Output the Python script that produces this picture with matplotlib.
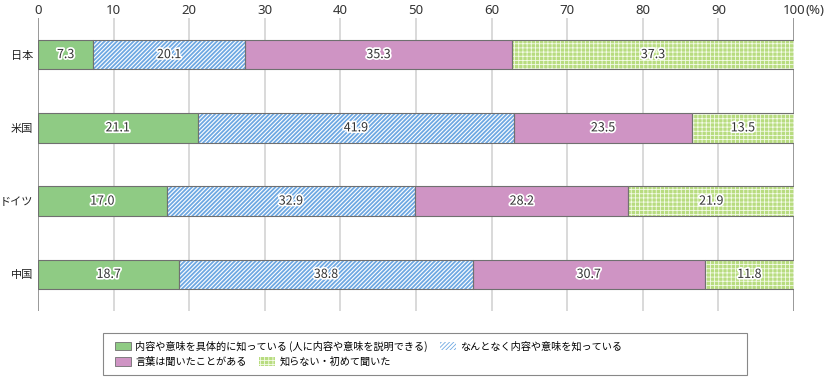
import numpy as np
import matplotlib
matplotlib.use("Agg")
import matplotlib.pyplot as plt
import matplotlib.patheffects as pe
from matplotlib.patches import Patch, Rectangle

plt.rcParams['font.family'] = ['Noto Sans CJK JP', 'DejaVu Sans']

countries = ['日本', '米国', 'ドイツ', '中国']
series_names = ['内容や意味を具体的に知っている (人に内容や意味を説明できる)',
                'なんとなく内容や意味を知っている',
                '言葉は聞いたことがある',
                '知らない・初めて聞いた']
know_well = [7.3, 21.1, 17.0, 18.7]
know_vague = [20.1, 41.9, 32.9, 38.8]
heard_word = [35.3, 23.5, 28.2, 30.7]
never_heard = [37.3, 13.5, 21.9, 11.8]
xticks = [0, 10, 20, 30, 40, 50, 60, 70, 80, 90, 100]

# face colour, hatch colour, hatch, hatch width
styles = [('#8fcb84', None, '', 0),
          ('#ffffff', '#6ea8e2', '////////', 1.3),
          ('#cf94c4', None, '', 0),
          ('#b8dc80', '#f4fbe8', '++++', 0.6)]

fig = plt.figure(figsize=(8.28, 3.8), dpi=100)
ax = fig.add_axes([38/828, 1-311/380, (794-38)/828, (311-18)/380])

y = np.arange(len(countries))
left = np.zeros(len(countries))
outline = '#707070'
for vals, (fc, hc, h, hw) in zip([know_well, know_vague, heard_word, never_heard], styles):
    vals = np.array(vals)
    if h:
        plt.rcParams['hatch.linewidth'] = hw
        ax.barh(y, vals, left=left, height=0.4, color=fc, edgecolor=hc,
                hatch=h, linewidth=0, zorder=3)
        ax.barh(y, vals, left=left, height=0.4, fill=False,
                edgecolor=outline, linewidth=0.8, zorder=4)
    else:
        ax.barh(y, vals, left=left, height=0.4, color=fc,
                edgecolor=outline, linewidth=0.8, zorder=3)
    for yi, l, v in zip(y, left, vals):
        ax.text(l + v/2, yi, f'{v:.1f}', ha='center', va='center', fontsize=9,
                color='#333333', zorder=5,
                path_effects=[pe.withStroke(linewidth=2.5, foreground='white')])
    left += vals

ax.set_xlim(0, 100)
ax.set_ylim(3.5, -0.5)
ax.set_yticks(y)
ax.set_yticklabels(countries, fontsize=8, color='#222222')
ax.set_xticks(xticks)
ax.xaxis.tick_top()
ax.tick_params(axis='x', length=0, labelsize=9.5, labelcolor='#333333', pad=1)
for t in ax.get_xticklabels():
    t.set_family('Noto Sans')
ax.tick_params(axis='y', length=0, pad=3.5)
for s in ax.spines.values():
    s.set_visible(False)
for xv in xticks:
    if xv in (0, 100):
        ax.axvline(xv, color='#888888', lw=1.2, zorder=2)
    else:
        ax.axvline(xv, color='#d3d3d3', lw=1.2, zorder=1)
ax.annotate('(%)', xy=(100, 1), xycoords=('data', 'axes fraction'),
            xytext=(8, 1), textcoords='offset points', ha='left', va='bottom',
            fontsize=9.5, color='#333333', family='Noto Sans')

def handle(fc, hc, h, hw):
    if h:
        plt.rcParams['hatch.linewidth'] = hw
        return Patch(facecolor=fc, edgecolor=hc, hatch=h, linewidth=0)
    return Patch(facecolor=fc, edgecolor=outline, linewidth=0.6)

handles = [handle(*s) for s in styles]
kw = dict(frameon=False, ncol=2, fontsize=7.3, borderpad=0, handlelength=1.6,
          handleheight=0.9, handletextpad=0.4, columnspacing=1.2, loc='center left')
leg1 = fig.legend(handles[:2], series_names[:2], bbox_to_anchor=(110/828, 1-346/380), **kw)
leg2 = fig.legend(handles[2:], series_names[2:], bbox_to_anchor=(110/828, 1-362/380), **kw)
fig.patches.append(Rectangle((103/828, 1-375/380), (747-103)/828, 42/380,
                             transform=fig.transFigure, fill=False,
                             edgecolor='#888888', linewidth=0.8))

fig.savefig('out.png', dpi=100)
